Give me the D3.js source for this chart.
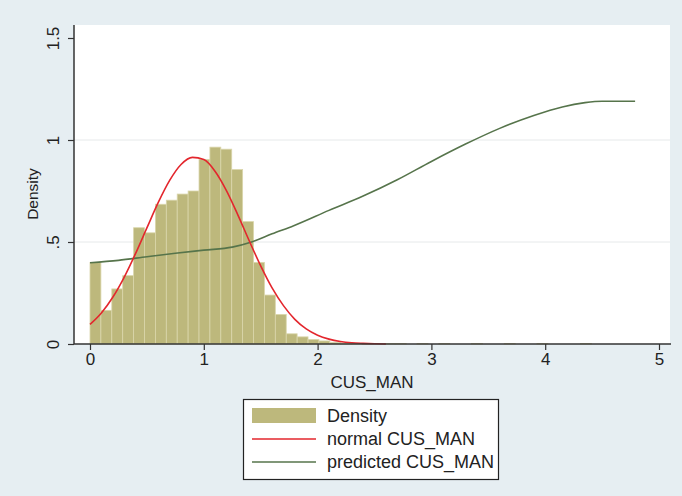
<!DOCTYPE html>
<html>
<head>
<meta charset="utf-8">
<script src="https://cdn.jsdelivr.net/npm/d3@7"></script>
<style>
  html, body { margin: 0; padding: 0; background: #e6eef2; }
  svg { display: block; }
  text { font-family: "Liberation Sans", Arial, Helvetica, sans-serif; fill: #222; }
</style>
</head>
<body>
<svg id="chart" width="682" height="496"></svg>
<script>
// ---- data ----
const histRange = [0, 4.79];          // data range of CUS_MAN
const binCount = 50;
const densities = [
  0.40, 0.165, 0.27, 0.335, 0.57, 0.545, 0.685, 0.705, 0.735, 0.75,
  0.905, 0.965, 0.955, 0.855, 0.60, 0.40, 0.24, 0.145, 0.05, 0.035,
  0.022, 0.015, 0.008, 0.004, 0.003, 0.002, 0.0, 0.002, 0.002, 0.0,
  0.002, 0.0, 0.002, 0.0, 0.0, 0.002, 0.0, 0.0, 0.002, 0.0,
  0.0, 0.002, 0.0, 0.0, 0.0, 0.002, 0.0, 0.0, 0.0, 0.0
];
const normalX = [0, 0.1, 0.2, 0.3, 0.4, 0.5, 0.6, 0.7, 0.8, 0.9, 1.0, 1.1, 1.2, 1.3, 1.4,
                 1.5, 1.6, 1.7, 1.8, 1.9, 2.0, 2.1, 2.2, 2.3, 2.4, 2.5, 2.6];
const normalY = [0.096, 0.152, 0.229, 0.327, 0.443, 0.569, 0.694, 0.802, 0.880, 0.915, 0.904,
                 0.846, 0.751, 0.632, 0.505, 0.383, 0.275, 0.188, 0.121, 0.074, 0.043, 0.024,
                 0.0125, 0.006, 0.003, 0.001, 0.0];
const predX = [0, 0.25, 0.5, 0.75, 1.0, 1.25, 1.42, 1.6, 1.79, 2.1, 2.4, 2.7, 3.0, 3.3, 3.6,
               3.9, 4.15, 4.35, 4.5, 4.79];
const predY = [0.398, 0.41, 0.428, 0.445, 0.46, 0.475, 0.50, 0.54, 0.58, 0.655, 0.725, 0.805,
               0.895, 0.98, 1.057, 1.12, 1.162, 1.183, 1.19, 1.19];
const xTicks = [0, 1, 2, 3, 4, 5];
const xTickLabels = ["0", "1", "2", "3", "4", "5"];
const yTicks = [0, 0.5, 1, 1.5];
const yTickLabels = ["0", ".5", "1", "1.5"];
const gridValues = [0.5, 1];
const xTitle = "CUS_MAN";
const yTitle = "Density";
const legendLabels = ["Density", "normal CUS_MAN", "predicted CUS_MAN"];

// ---- layout ----
const plot = { left: 74, right: 670, top: 25, bottom: 344 };
const x = d3.scaleLinear().domain([0, 5]).range([90, 659]);
const y = d3.scaleLinear().domain([0, 1.5]).range([344, 38]);

const colors = { bar: "#bdb87c", barStroke: "#dad6ab", normal: "#e3262d", pred: "#56744b", axis: "#333" };

const svg = d3.select("#chart");

svg.append("rect").attr("x", 0).attr("y", 0).attr("width", 682).attr("height", 496).attr("fill", "#e6eef2");
svg.append("rect")
  .attr("x", plot.left).attr("y", plot.top)
  .attr("width", plot.right - plot.left).attr("height", plot.bottom - plot.top)
  .attr("fill", "#ffffff");

// gridlines
svg.append("g").selectAll("line").data(gridValues).join("line")
  .attr("x1", plot.left).attr("x2", plot.right)
  .attr("y1", d => y(d)).attr("y2", d => y(d))
  .attr("stroke", "#e6e9ea").attr("stroke-width", 1);

// histogram bars
const binWidth = (histRange[1] - histRange[0]) / binCount;
const bins = densities.map((d, i) => ({ x0: histRange[0] + i * binWidth, x1: histRange[0] + (i + 1) * binWidth, d }));
svg.append("g").selectAll("rect").data(bins.filter(b => b.d > 0)).join("rect")
  .attr("x", b => x(b.x0))
  .attr("width", b => x(b.x1) - x(b.x0))
  .attr("y", b => y(b.d))
  .attr("height", b => y(0) - y(b.d))
  .attr("fill", colors.bar)
  .attr("stroke", colors.barStroke)
  .attr("stroke-width", 0.8);

// lines
const normalPts = normalX.map((v, i) => [v, normalY[i]]);
const predPts = predX.map((v, i) => [v, predY[i]]);
const line = d3.line().x(d => x(d[0])).y(d => y(d[1])).curve(d3.curveMonotoneX);

svg.append("path").datum(predPts).attr("d", line)
  .attr("fill", "none").attr("stroke", colors.pred).attr("stroke-width", 1.6);
svg.append("path").datum(normalPts).attr("d", line)
  .attr("fill", "none").attr("stroke", colors.normal).attr("stroke-width", 1.6);

// axes
const xAxis = d3.axisBottom(x).tickValues(xTicks).tickFormat((d, i) => xTickLabels[i]).tickSize(6).tickPadding(3);
const gx = svg.append("g").attr("transform", `translate(0,${plot.bottom})`).call(xAxis);
gx.select(".domain").remove();
gx.append("line").attr("x1", plot.left).attr("x2", plot.right + 1).attr("y1", 0).attr("y2", 0)
  .attr("stroke", colors.axis).attr("stroke-width", 1.5);
gx.selectAll(".tick line").attr("stroke", colors.axis).attr("stroke-width", 1.2);
gx.selectAll(".tick text").attr("font-size", 17).attr("fill", "#222")
  .style("font-family", '"Liberation Sans", Arial, sans-serif');

const yAxis = d3.axisLeft(y).tickValues(yTicks).tickFormat((d, i) => yTickLabels[i]).tickSize(6).tickPadding(4);
const gy = svg.append("g").attr("transform", `translate(${plot.left},0)`).call(yAxis);
gy.select(".domain").remove();
gy.append("line").attr("x1", 0).attr("x2", 0).attr("y1", plot.top).attr("y2", plot.bottom)
  .attr("stroke", colors.axis).attr("stroke-width", 1.5);
gy.selectAll(".tick line").attr("stroke", colors.axis).attr("stroke-width", 1.2);
gy.selectAll(".tick text")
  .attr("font-size", 17).attr("fill", "#222")
  .style("font-family", '"Liberation Sans", Arial, sans-serif')
  .attr("x", null).attr("dy", null)
  .attr("text-anchor", "middle")
  .attr("transform", "translate(-15,0) rotate(-90)")
  .attr("y", 0);

// titles
svg.append("text").attr("x", (plot.left + plot.right) / 2).attr("y", 388)
  .attr("text-anchor", "middle").attr("font-size", 17).text(xTitle);
svg.append("text").attr("transform", "translate(38,194) rotate(-90)")
  .attr("text-anchor", "middle").attr("font-size", 15.5).text(yTitle);

// legend
const lg = svg.append("g");
lg.append("rect").attr("x", 243.5).attr("y", 399.5).attr("width", 255).attr("height", 80)
  .attr("fill", "#ffffff").attr("stroke", "#222").attr("stroke-width", 1.2);
const rowY = [416, 439, 462];
lg.append("rect").attr("x", 252).attr("y", rowY[0] - 8).attr("width", 64).attr("height", 15)
  .attr("fill", colors.bar);
lg.append("line").attr("x1", 252).attr("x2", 316).attr("y1", rowY[1]).attr("y2", rowY[1])
  .attr("stroke", colors.normal).attr("stroke-width", 1.6);
lg.append("line").attr("x1", 252).attr("x2", 316).attr("y1", rowY[2]).attr("y2", rowY[2])
  .attr("stroke", colors.pred).attr("stroke-width", 1.6);
lg.selectAll("text.lbl").data(legendLabels).join("text").attr("class", "lbl")
  .attr("x", 327).attr("y", (d, i) => rowY[i] + 6)
  .attr("font-size", 18).text(d => d);
</script>
</body>
</html>
